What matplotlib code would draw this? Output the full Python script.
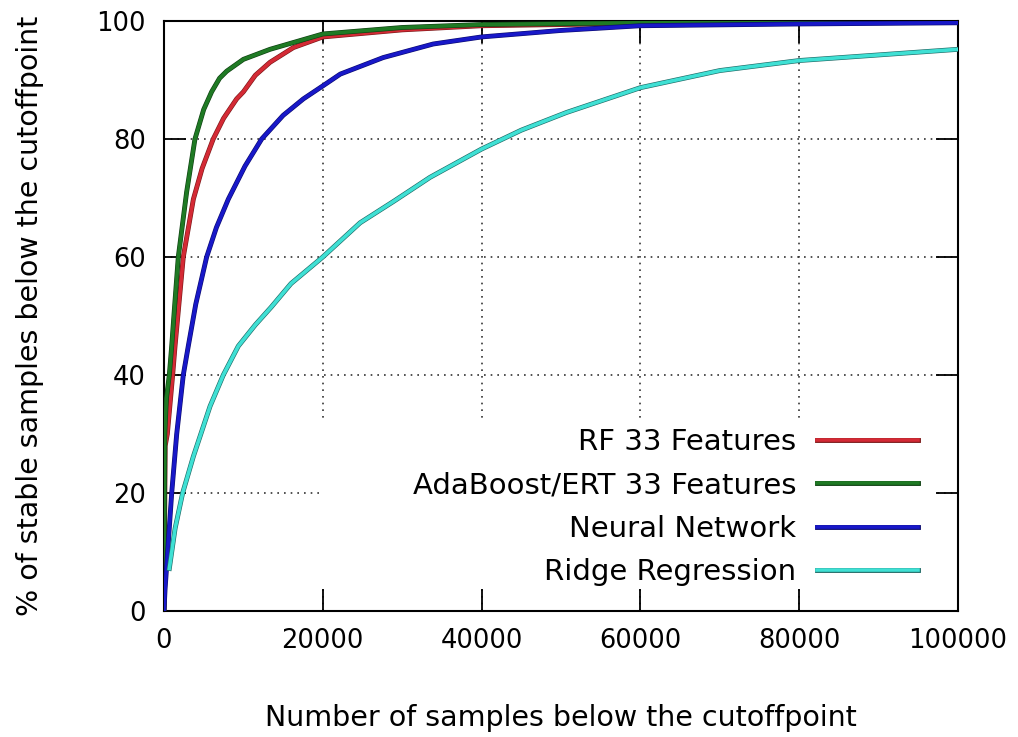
import matplotlib
matplotlib.use("Agg")
import matplotlib.pyplot as plt
import matplotlib.patheffects as pe
from matplotlib.patches import Rectangle

# values (x = samples, y = % stable)
rf_x = [0, 150, 420, 1090, 1390, 2430, 3700, 4800, 6200, 7500, 9150, 10000, 11500, 13350, 16300, 20000, 30000, 40000, 60000, 100000]
rf_y = [0, 28, 30, 40, 44.9, 60, 69.8, 75, 80, 83.5, 86.8, 88, 90.8, 93, 95.5, 97.3, 98.5, 99.2, 99.6, 99.8]

ada_x = [0, 100, 300, 670, 970, 1300, 1800, 2850, 3900, 5000, 6000, 7000, 7900, 10000, 13350, 20000, 30000, 40000, 60000, 100000]
ada_y = [0, 30, 36, 40, 44.9, 51, 60, 71, 80, 85, 88, 90.3, 91.5, 93.5, 95.2, 97.8, 98.9, 99.4, 99.7, 99.8]

nn_x = [0, 130, 970, 1600, 2430, 3060, 4000, 5370, 6600, 8100, 10200, 12300, 15000, 17550, 20000, 22200, 27600, 33900, 40000, 50000, 60000, 80000, 100000]
nn_y = [0, 3.6, 20, 30, 40, 44.9, 52, 60, 65, 69.8, 75.4, 80, 84, 86.8, 89, 91, 93.8, 96.1, 97.3, 98.4, 99.2, 99.5, 99.7]

ridge_x = [670, 1400, 2350, 3700, 5800, 7470, 9360, 11500, 13500, 16000, 20000, 24700, 29000, 33500, 40000, 45000, 50700, 60000, 70000, 80000, 100000]
ridge_y = [7.2, 14, 20, 26.2, 34.7, 40, 44.9, 48.5, 51.5, 55.5, 60, 65.8, 69.5, 73.5, 78.3, 81.5, 84.5, 88.7, 91.6, 93.3, 95.2]

series = [
    ("RF 33 Features", rf_x, rf_y, "#d42a35", "#7a1818"),
    ("AdaBoost/ERT 33 Features", ada_x, ada_y, "#1f7a24", "#0f4012"),
    ("Neural Network", nn_x, nn_y, "#1818c8", "#0c0c70"),
    ("Ridge Regression", ridge_x, ridge_y, "#3fe0d4", "#1f6a66"),
]

plt.rcParams["font.family"] = "DejaVu Sans"
plt.rcParams["font.size"] = 18

fig = plt.figure(figsize=(10.18, 7.37), dpi=100)
ax = fig.add_axes([0.1611, 0.1710, 0.7800, 0.8005])

for label, xs, ys, col, edge in series:
    ax.plot(xs, ys, color=col, lw=2.6, label=label, zorder=3,
            solid_joinstyle="round",
            path_effects=[pe.Stroke(linewidth=3.5, foreground=edge), pe.Normal()])

ax.set_xlim(0, 100000)
ax.set_ylim(0, 100)
ax.set_xticks([0, 20000, 40000, 60000, 80000, 100000])
ax.set_yticks([0, 20, 40, 60, 80, 100])

ax.set_axisbelow(True)
ax.grid(True, color="#333333", linestyle=(0, (1, 3)), lw=1.2)
ax.tick_params(direction="in", length=15.5, width=1.3, top=True, right=True,
               labelsize=18.5, color="black")
ax.tick_params(axis="x", pad=12)
ax.tick_params(axis="y", pad=13)
for s in ax.spines.values():
    s.set_linewidth(1.5)

# opaque key area like gnuplot
ax.add_patch(Rectangle((0.1952, 0.0373), 0.7771, 0.2897, transform=ax.transAxes,
                       facecolor="white", edgecolor="none", zorder=1))

ax.legend(loc="lower right", bbox_to_anchor=(0.9496, 0.042), frameon=False,
          markerfirst=False, handlelength=3.45, handletextpad=0.72,
          labelspacing=0.53, borderpad=0, borderaxespad=0, fontsize=21)

ax.set_xlabel("Number of samples below the cutoffpoint", fontsize=20.5, labelpad=36)
ax.set_ylabel("% of stable samples below the cutoffpoint", fontsize=20.5, labelpad=38)

fig.savefig("out.png", dpi=100)
